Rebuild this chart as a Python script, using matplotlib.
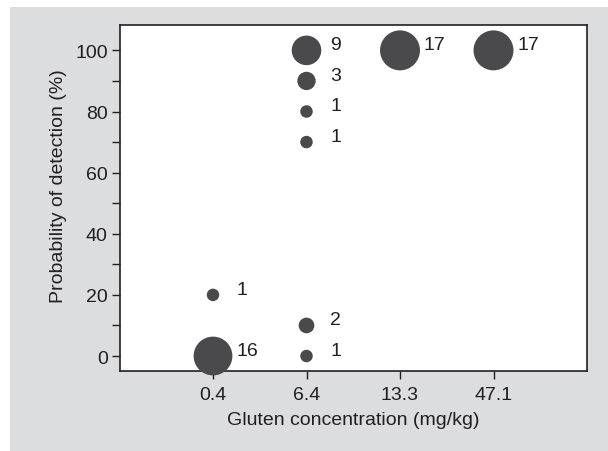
import numpy as np
import matplotlib.pyplot as plt
from matplotlib.patches import Rectangle

plt.rcParams['font.family'] = ['Liberation Sans', 'DejaVu Sans']

# categories on x (equally spaced)
concentrations = ["0.4", "6.4", "13.3", "47.1"]
# observations: concentration index, probability (%), number of samples
conc_idx = [0, 0, 1, 1, 1, 1, 1, 1, 2, 3]
probability = [20, 0, 100, 90, 80, 70, 10, 0, 100, 100]
counts = [1, 16, 9, 3, 1, 1, 2, 1, 17, 17]

dpi = 100
fig = plt.figure(figsize=(6.08, 4.52), dpi=dpi, facecolor="white")
fig.patches.append(Rectangle((10 / 608, 0), 1, 1 - 8 / 452, transform=fig.transFigure,
                             facecolor="#dcdddf", edgecolor="none", zorder=-10))

ax = fig.add_axes([119.5 / 608, 1 - 372 / 452, 467.5 / 608, 346 / 452])
ax.set_facecolor("white")

# bubble diameter (px): d^2 ~ 66 + 90 n  -> marker area in pt^2
diam_px = np.sqrt(66 + 90 * np.array(counts))
sizes = (diam_px * 72 / dpi) ** 2
ax.scatter(conc_idx, probability, s=sizes, color="#4a4a4c", edgecolors="none", zorder=3,
           clip_on=False)

for xi, yi, n in zip(conc_idx, probability, counts):
    ax.annotate(str(n), (xi, yi), xytext=(17, 1), textcoords="offset points",
                ha="left", va="baseline", fontsize=14, color="#231f20")

ax.set_xlim(-1, 4)
ax.set_ylim(-4.9, 108.3)
ax.set_xticks(range(len(concentrations)))
ax.set_xticklabels(concentrations)
ax.set_yticks([0, 20, 40, 60, 80, 100])
ax.set_yticks([10, 30, 50, 70, 90], minor=True)

ax.tick_params(axis="both", which="both", direction="out", length=5.5, width=1,
               color="#231f20", labelsize=14, labelcolor="#231f20")
ax.tick_params(axis="x", pad=5)
ax.tick_params(axis="y", pad=3)
for sp in ax.spines.values():
    sp.set_color("#231f20")
    sp.set_linewidth(1.2)

ax.set_xlabel("Gluten concentration (mg/kg)", fontsize=14, color="#231f20", labelpad=6)
ax.set_ylabel("Probability of detection (%)", fontsize=14, color="#231f20")
ax.yaxis.set_label_coords(-0.112, 0.537)

fig.savefig("out.png", dpi=dpi, facecolor=fig.get_facecolor())
